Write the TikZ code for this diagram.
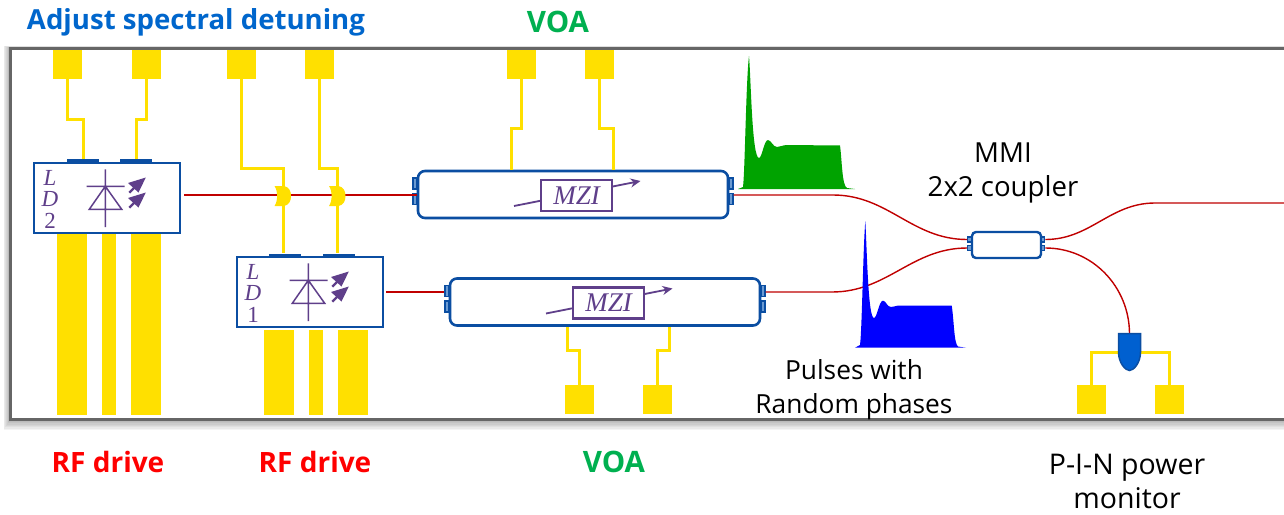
\documentclass[tikz,border=0pt]{standalone}
\usepackage{amsmath}
\usepackage{xcolor}
\usepackage{fontspec}
\setmainfont{Open Sans}
\newfontfamily\cellfont{Liberation Serif}
\usetikzlibrary{arrows.meta}
\definecolor{padyellow}{HTML}{FFE000}
\definecolor{chipblue}{HTML}{0B4EA2}
\definecolor{tabblue}{HTML}{6C9BD2}
\definecolor{pdblue}{HTML}{0060D0}
\definecolor{ldpurple}{HTML}{5F3F8A}
\definecolor{guidered}{HTML}{C00000}
\definecolor{titleblue}{HTML}{0066CC}
\definecolor{voagreen}{HTML}{00B050}
\definecolor{pulsegreen}{HTML}{00A300}
\tikzset{
	pad/.style={fill=padyellow, minimum size=29pt, inner sep=0pt},
	rfbar/.style={fill=padyellow, minimum width=#1, inner sep=0pt},
	trace/.style={draw=padyellow, line width=3pt},
	contact/.style={fill=chipblue, minimum width=32pt, minimum height=4pt, inner sep=0pt},
	ldbox/.style={draw=chipblue, line width=2.4pt, fill=white, minimum width=146pt, minimum height=70pt, inner sep=0pt},
	ldtag/.style={text=ldpurple, align=center, font=\fontsize{23}{21.5}\selectfont\cellfont\itshape, inner sep=0pt},
	mzibox/.style={draw=chipblue, line width=2.6pt, fill=white, rounded corners=7pt, minimum width=310pt, minimum height=47pt, inner sep=0pt},
	mzicell/.style={draw=ldpurple, line width=2.4pt, fill=white, text=ldpurple, minimum width=71pt, minimum height=31pt, inner sep=0pt, font=\fontsize{27}{27}\selectfont\cellfont\itshape},
	tab/.style={draw=chipblue, line width=1.3pt, fill=tabblue, minimum width=3.5pt, minimum height=#1, inner sep=0pt},
	guide/.style={draw=guidered, line width=1.4pt},
	bold label/.style={font=\fontsize{28}{28}\selectfont\bfseries, inner sep=0pt},
	plain label/.style={font=\fontsize{#1}{34}\selectfont, text=black, align=center, inner sep=0pt},
	ldsymbol/.pic={
		\draw[ldpurple, line width=1.5pt] (-1.7,-28.7) -- (-1.7,29) (-20.3,-11.7) -- (17.7,-11.7) (-1.7,-11.7) -- (-17.7,11.3) -- (14.7,11.3) -- cycle;
		\foreach \d in {0,15} {
			\fill[ldpurple] (38.8,-20.5+\d) -- (21,-15+\d) -- (31.5,-5.5+\d) -- cycle;
			\draw[ldpurple, line width=2.4pt] (22.3,-5.3+\d) -- (29,-12+\d);
		}
	},
	shifter/.pic={
		\fill[padyellow] (-8.5,-10) -- (1,-10) .. controls (6,-9) and (8,-5) .. (8,0) .. controls (8,5) and (6,9) .. (1,10) -- (-8.5,10) .. controls (-5,5) and (-5,-5) .. (-8.5,-10) -- cycle;
	},
}
\begin{document}
\begin{tikzpicture}[x=1pt, y=-1pt]
	\useasboundingbox (0,0) rectangle (1284,514);
	\foreach \d in {1,...,8}
		\fill[black, opacity=.045] (10-.8*\d,48-.3*\d) rectangle (1300,419+1.4*\d);
	\draw[draw=black!60, line width=3pt, fill=white] (10,48) rectangle (1300,419);

	\foreach \n/\x in {a/67.5, b/146.5, c/241.5, d/319.5, e/521.5, f/599.5}
		\node[pad] (pad\n) at (\x,64.5) {};
	\foreach \n/\x in {g/579.5, h/657.5, i/1091.5, j/1169.5}
		\node[pad] (pad\n) at (\x,399.5) {};

	\foreach \n/\x/\w in {a/72/30, b/109/14, c/146/30}
		\node[rfbar=\w pt, minimum height=181pt] (rfup\n) at (\x,324.5) {};
	\foreach \n/\x/\w in {a/279/30, b/316/14, c/353/30}
		\node[rfbar=\w pt, minimum height=85pt] (rflow\n) at (\x,372.5) {};

	\node[ldbox] (ldtwo) at (107,198) {};
	\node[ldbox] (ldone) at (310,292) {};
	\node[contact] (cona) at (83,161) {};
	\node[contact] (conb) at (136,161) {};
	\node[contact] (conc) at (285,255.5) {};
	\node[contact] (cond) at (339,255.5) {};
	\pic at (ldtwo.center) {ldsymbol};
	\pic at (ldone.center) {ldsymbol};
	\node[ldtag] (ldtwotag) at (50,199) {L\\D\\\upshape 2};
	\node[ldtag] (ldonetag) at (253,293) {L\\D\\\upshape 1};

	\foreach \n/\x/\y in {a/573/194.5, b/605/302} {
		\node[mzibox] (mzi\n) at (\x,\y) {};
		\foreach \s/\o in {west/-1, east/1} {
			\node[tab=11pt] (tab\n\s up) at ([shift={(\o*2,-11)}]mzi\n.\s) {};
			\node[tab=11pt] (tab\n\s low) at ([shift={(\o*2,4.5)}]mzi\n.\s) {};
		}
		\coordinate (cell\n) at (\x+3.5,\y+1);
		\draw[ldpurple, line width=1.8pt, -{Stealth[length=10pt,width=9pt]}] ([shift={(-62.5,10.5)}]cell\n) -- ([shift={(64,-14.5)}]cell\n);
		\node[mzicell] (mzi\n cell) at (cell\n) {MZI};
	}

	\node[draw=chipblue, line width=2.4pt, fill=white, rounded corners=4pt, minimum width=69pt, minimum height=26pt, inner sep=0pt] (mmi) at (1006.5,245) {};
	\foreach \n/\y in {up/239.5, low/248} {
		\node[tab=5pt] (mmiin\n) at (969.5,\y) {};
		\node[tab=5pt] (mmiout\n) at (1043,\y) {};
	}

	\draw[trace] (pada.south) -- ++(0,40) -| (cona.north);
	\draw[trace] (padb.south) -- ++(0,40) -| (conb.north);
	\draw[trace] (padc.south) -- ++(0,89) -| ([xshift=-1.5pt]conc.north);
	\draw[trace] (padd.south) -- ++(0,89) -| ([xshift=-2pt]cond.north);
	\draw[trace] (pade.south) -- ++(0,49) -| ([xshift=-62pt]mzia.north);
	\draw[trace] (padf.south) -- ++(0,49) -| ([xshift=40pt]mzia.north);
	\draw[trace] (padg.north) -- ++(0,-34) -| ([xshift=-38pt]mzib.south);
	\draw[trace] (padh.north) -- ++(0,-34) -| ([xshift=64pt]mzib.south);

	\coordinate (pd) at (1129.5,352);
	\coordinate (pdtop) at (1129.5,334);
	\draw[trace] (padi.north) |- (pd) -| (padj.north);

	\coordinate (benda) at (833,195);
	\coordinate (bendb) at (832,292);
	\coordinate (bendc) at (1155,203);
	\coordinate (outc) at (1290,203);
	\coordinate (ldtwoout) at ([shift={(3,-3)}]ldtwo.east);
	\coordinate (ldoneout) at ([xshift=2pt]ldone.east);
	\draw[guide] (ldtwoout) -- (ldtwoout -| mzia.west);
	\draw[guide] (ldoneout) -- (ldoneout -| tabbwestup.west);
	\draw[guide] (tabaeastup.east |- benda) -- (benda) to[out=0, in=180] (mmiinup.west);
	\draw[guide] (tabbeastup.east |- bendb) -- (bendb) to[out=0, in=180] (mmiinlow.west);
	\draw[guide] (mmioutup.east) to[out=0, in=180] (bendc) -- (outc);
	\draw[guide] (mmioutlow.east) to[out=0, in=90] (pdtop);

	\pic at (283,196) {shifter};
	\pic at (337.5,196) {shifter};

	\draw[draw=chipblue, line width=1.5pt, fill=pdblue] ([shift={(-11,-18.5)}]pd) -- ([shift={(11,-18.5)}]pd) -- ([shift={(11,0)}]pd) .. controls ([shift={(11,11)}]pd) and ([shift={(4,18.5)}]pd) .. ([shift={(0,18.5)}]pd) .. controls ([shift={(-4,18.5)}]pd) and ([shift={(-11,11)}]pd) .. ([shift={(-11,0)}]pd) -- cycle;

	\fill[pulsegreen] (738,189) -- (743,187) .. controls (745,170) and (746,80) .. (749,56) .. controls (751,80) and (752,158) .. (759,158) .. controls (762,158) and (764,140) .. (768,140) .. controls (771,140) and (773,147) .. (777,147) .. controls (780,147) and (783,145) .. (787,145) -- (840,145.5) .. controls (842,160) and (842,186) .. (847,188) -- (855,189) -- cycle;
	\fill[blue] (855,347.7) -- (860,345) .. controls (862,330) and (863,250) .. (865.3,221) .. controls (867,250) and (868,318) .. (874,318) .. controls (877,318) and (879,300.7) .. (883,300.7) .. controls (886,300.7) and (887,307) .. (891,307) .. controls (894,307) and (896,305.5) .. (900,305.5) -- (951.7,305.5) .. controls (954,320) and (954,344) .. (958,346.5) -- (966,347.7) -- cycle;

	\node[bold label, font=\fontsize{27.6}{28}\selectfont\bfseries, text=titleblue] (detuning) at (196,22.5) {Adjust spectral detuning};
	\node[bold label, font=\fontsize{29.5}{30}\selectfont\bfseries, text=voagreen] (voatop) at (558,22) {VOA};
	\node[bold label, font=\fontsize{29.5}{30}\selectfont\bfseries, text=voagreen] (voabottom) at (614,462) {VOA};
	\node[bold label, text=red] (rfleft) at (108,462) {RF drive};
	\node[bold label, text=red] (rfright) at (315,462) {RF drive};
	\node[plain label=27.6] (mmilabel) at (1003,172.5) {MMI\\2x2 coupler};
	\node[plain label=26.3] (pulselabel) at (854,389.5) {Pulses with\\Random phases};
	\node[plain label=28.5] (pinlabel) at (1127,481.5) {P-I-N power\\monitor};
\end{tikzpicture}
\end{document}
